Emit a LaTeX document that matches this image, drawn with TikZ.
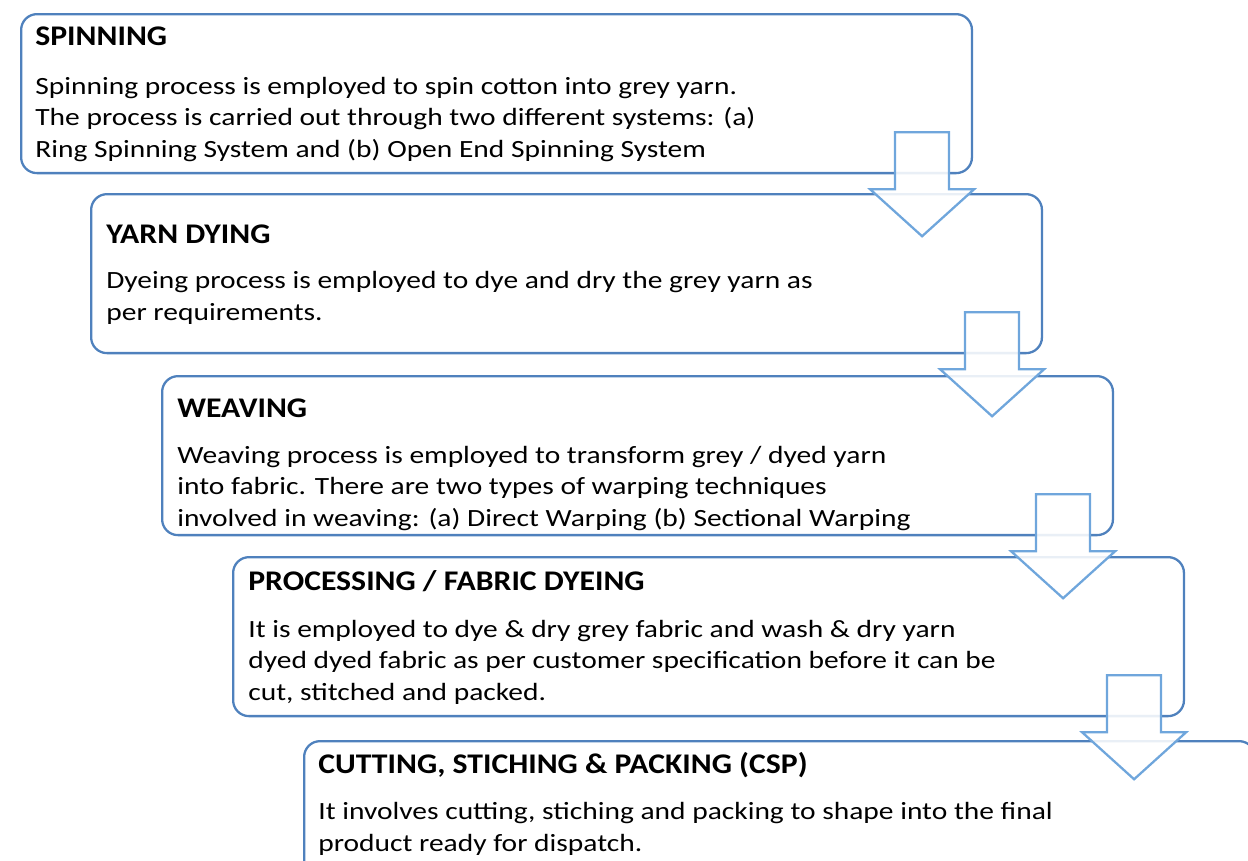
\documentclass[tikz,border=0pt]{standalone}
\usepackage{fontspec}
\setmainfont{Carlito}
\newfontfamily\bodyfont{Carlito}[FakeStretch=1.19]
\newfontfamily\headfont{Carlito}[FakeStretch=1.115]
\usetikzlibrary{calc}
\definecolor{boxblue}{RGB}{79,129,189}
\definecolor{arrowblue}{RGB}{111,166,220}

\begin{document}
\begin{tikzpicture}[x=0.02cm,y=-0.02cm]
	\tikzstyle{stage}=[draw=boxblue,line width=1.3pt,rounded corners=9pt,minimum width=19.02cm,minimum height=3.18cm,inner sep=0pt,anchor=north west]
	\tikzstyle{heading}=[font=\headfont\fontsize{16.2}{19}\selectfont\bfseries,inner sep=0pt,anchor=base west]
	\tikzstyle{body}=[font=\bodyfont\fontsize{14.1}{17.92}\selectfont,align=left,inner sep=0pt,anchor=base west]
	\tikzstyle{flow}=[draw=arrowblue,line width=1.3pt,fill=white,fill opacity=0.88,line join=miter]

	\clip (0,0) rectangle (1248,860);

	\node[stage] (s1) at (20,13) {};
	\node[stage] (s2) at (90,193) {};
	\node[stage] (s3) at (161,375) {};
	\node[stage] (s4) at (232,556) {};
	\node[stage] (s5) at (303,740) {};

	% headings at first baseline, bodies at last baseline
	\node[heading] (s1-t) at (35,45) {SPINNING};
	\node[body] (s1-b) at (35,157) {Spinning process is employed to spin cotton into grey yarn.\\The process is carried out through two different systems: (a)\\Ring Spinning System and (b) Open End Spinning System};

	\node[heading] (s2-t) at (106,243) {YARN DYING};
	\node[body] (s2-b) at (106,320) {Dyeing process is employed to dye and dry the grey yarn as\\per requirements.};

	\node[heading] (s3-t) at (177,417) {WEAVING};
	\node[body] (s3-b) at (177,526) {Weaving process is employed to transform grey / dyed yarn\\into fabric. There are two types of warping techniques\\involved in weaving: (a) Direct Warping (b) Sectional Warping};

	\node[heading] (s4-t) at (248,590) {PROCESSING / FABRIC DYEING};
	\node[body] (s4-b) at (248,700) {It is employed to dye \& dry grey fabric and wash \& dry yarn\\dyed dyed fabric as per customer specification before it can be\\cut, stitched and packed.};

	\node[heading] (s5-t) at (318,773) {CUTTING, STICHING \& PACKING (CSP)};
	\node[body] (s5-b) at (318,851) {It involves cutting, stiching and packing to shape into the final\\product ready for dispatch.};

	\foreach \i in {1,...,4}
	\coordinate (a\i) at ($(s\i.south east)+(-51,-42)$);

	\foreach \i in {1,...,4}
	\draw[flow,shift={(a\i)}] (-27,0) -- (-27,57) -- (-52,57) -- (0,104) -- (52,57) -- (27,57) -- (27,0) -- cycle;

\end{tikzpicture}
\end{document}
